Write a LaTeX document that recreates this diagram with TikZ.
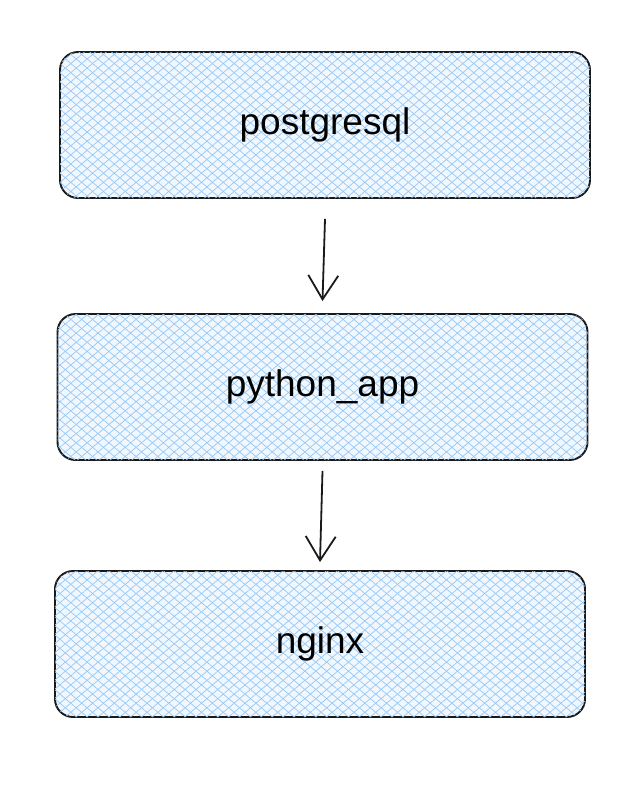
\documentclass[tikz,border=0pt]{standalone}
\usepackage{fontspec}
\setmainfont{Liberation Sans}
\usetikzlibrary{patterns.meta,arrows.meta}
\definecolor{hatch}{RGB}{150,200,245}
\definecolor{boxfill}{RGB}{240,247,254}
\tikzset{
  svc/.style={draw=black!90, line width=1.9pt, rounded corners=18pt, fill=boxfill,
    postaction={pattern={Lines[angle=40,distance=7pt,line width=0.7pt]}, pattern color=hatch},
    postaction={pattern={Lines[angle=-40,distance=7pt,line width=0.7pt]}, pattern color=hatch},
    minimum width=530pt, minimum height=146pt, inner sep=0pt,
    font=\fontsize{37}{44}\selectfont},
  conn/.style={draw=black!90, line width=1.8pt, -{Straight Barb[length=24pt,width=30pt,line width=1.8pt]}}
}
\begin{document}
\begin{tikzpicture}[x=1pt,y=-1pt]
\useasboundingbox (0,0) rectangle (642,790);
\node[svc] (pg) at (325,125) {postgresql};
\node[svc] (py) at (322.5,387) {python\_app};
\node[svc] (ng) at (320,644) {nginx};
\draw[conn] ([yshift=-20pt]pg.south) -- ([yshift=12pt]py.north);
\draw[conn] ([yshift=-10pt]py.south) -- ([yshift=8pt]ng.north);
\end{tikzpicture}
\end{document}
